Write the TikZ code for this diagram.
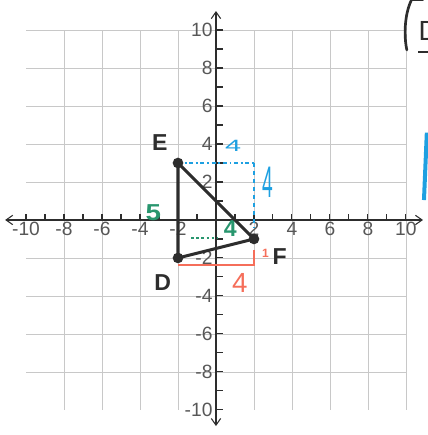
\documentclass[tikz,border=0pt]{standalone}
\usepackage{fontspec}
\setmainfont{Liberation Sans}
\usepackage{xcolor}
\definecolor{gridgray}{RGB}{200,200,200}
\definecolor{penblack}{RGB}{45,45,45}
\definecolor{penblue}{RGB}{30,160,225}
\definecolor{pengreen}{RGB}{40,150,110}
\definecolor{penred}{RGB}{245,110,90}
\usetikzlibrary{arrows.meta, positioning}

\begin{document}
\begin{tikzpicture}[x=0.5cm, y=0.5cm,
  ticklabel/.style={font=\Large, penblack!80, inner sep=1pt},
  ptlabel/.style={font=\LARGE\bfseries, penblack},
  vertex/.style={circle, fill=penblack, inner sep=0pt, minimum size=8pt},
  side/.style={line width=2.3pt, penblack, line cap=round, line join=round},
  axisline/.style={thick, penblack, {Straight Barb[length=5pt,width=7pt]}-{Straight Barb[length=5pt,width=7pt]}}]
  \useasboundingbox (-11.37,-11.32) rectangle (11.16,11.58);

  % Grid paper
  \draw[gridgray, thin] (-10,-10) grid (10,10);

  % Axes with ticks
  \draw[axisline] (-11.1,0) -- (10.9,0);
  \draw[axisline] (0,-10.85) -- (0,11.0);
  \foreach \t in {-10,...,10} {
    \draw[thick, penblack] (\t,0) -- (\t,0.3);
    \draw[thick, penblack] (0,\t) -- (0.35,\t);
  }
  \foreach \t in {-10,-8,-6,-4,-2,2,4,6,8,10} {
    \node[ticklabel, anchor=north] (xl\t) at (\t,-0.05) {\t};
    \node[ticklabel, anchor=east] (yl\t) at (-0.1,\t) {\t};
  }

  % Blue box: 4 across, 4 down
  \coordinate (bluecorner) at (2,3);
  \coordinate (blueend) at (2,-0.4);
  \draw[penblue, line width=1.4pt, dash dot] (-2,3) -- (bluecorner);
  \draw[penblue, line width=1.4pt, dashed] (bluecorner) -- (blueend);
  \node[font=\Large, penblue, xscale=1.5, yscale=0.85] (bluetop) at (0.9,3.9) {4};
  \node[font=\Large, penblue, yscale=2.3] (blueside) at (2.75,2) {4};

  % Green: 5 and 4
  \coordinate (greenstart) at (-1.3,-0.95);
  \coordinate (greenend) at (0.1,-0.95);
  \draw[pengreen, line width=1.8pt, dotted] (greenstart) -- (greenend);
  \node[font=\LARGE\bfseries, pengreen, xscale=1.2] (greenfive) at (-3.3,0.4) {5};
  \node[font=\LARGE\bfseries, pengreen] (greenfour) at (0.75,-0.45) {4};

  % Red: 4 along the bottom, 1 up to F
  \coordinate (redstart) at (-2,-2.35);
  \coordinate (redcorner) at (2,-2.35);
  \coordinate (redtop) at (2,-1.6);
  \draw[penred, line width=1.6pt] (redstart) -- (redcorner) -- (redtop);
  \node[font=\small\bfseries, penred] (redone) at (2.6,-1.75) {1};
  \node[font=\huge, penred] (redfour) at (1.25,-3.3) {4};

  % Triangle DEF
  \node[vertex] (E) at (-2,3) {};
  \node[vertex] (D) at (-2,-2) {};
  \node[vertex] (F) at (2,-1) {};
  \draw[side] (E.center) -- (D.center) -- (F.center) -- cycle;
  \node[ptlabel] (Elabel) at (-2.95,4.1) {E};
  \node[ptlabel] (Dlabel) at (-2.8,-3.3) {D};
  \node[ptlabel] (Flabel) at (3.35,-1.95) {F};

  % Cut-off marks at the right edge
  \begin{scope}
    \clip (-11.37,-11.32) rectangle (11.16,11.58);
    \draw[line width=2pt, penblack, line cap=round]
      (10.9,11.6) -- (10.3,11.6) .. controls (9.9,10.8) and (9.9,9.6) .. (10.05,8.95);
    \node[ptlabel, font=\huge] (cutD) at (11.2,9.95) {D};
    \draw[line width=2pt, penblack] (10.65,8.85) -- (11.3,8.85);
    \draw[line width=3pt, penblue] (11.1,4.6) -- (10.95,1.05);
  \end{scope}
\end{tikzpicture}
\end{document}
